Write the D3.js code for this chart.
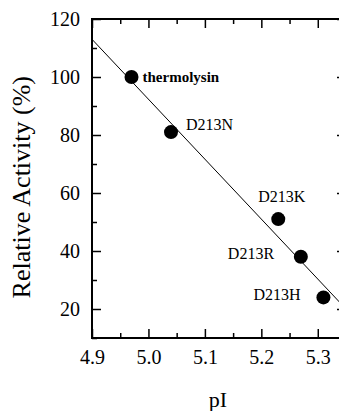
<!DOCTYPE html>
<html>
<head>
<meta charset="utf-8">
<script src="https://cdnjs.cloudflare.com/ajax/libs/d3/7.8.5/d3.min.js"></script>
<style>
body{margin:0;background:#fff;overflow:hidden;}
</style>
</head>
<body>
<div id="app"></div>
<script>
var names = ["thermolysin","D213N","D213K","D213R","D213H"];
var pI = [4.97, 5.04, 5.23, 5.27, 5.31];
var activity = [100, 81, 51, 38, 24];
var fitX = [4.9, 5.35];
var fitY = [113, 20];
var xTicks = [4.9, 5.0, 5.1, 5.2, 5.3];
var yTicks = [20, 40, 60, 80, 100, 120];

var serif = "Liberation Serif";
var svgWidth = 339, svgHeight = 411;
var margin = {top: 19, right: -7, bottom: 73, left: 92};
var planeWidth = svgWidth - margin.left - margin.right;
var planeHeight = svgHeight - margin.top - margin.bottom;

var svg = d3.select("#app").append("svg")
    .attr("width", svgWidth)
    .attr("height", svgHeight)
    .attr("font-family", serif);

var g = svg.append("g")
    .attr("transform", "translate(" + margin.left + "," + margin.top + ")");

var x = d3.scaleLinear().domain([4.9, 5.35]).range([0, planeWidth]);
var y = d3.scaleLinear().domain([10, 120]).range([planeHeight, 0]);

// minor ticks
var xMinor = [4.95, 5.05, 5.15, 5.25];
var yMinor = [10, 30, 50, 70, 90, 110];

function style(sel){
    sel.attr("font-family", null).attr("font-size", null);
    sel.select(".domain").remove();
    sel.selectAll(".tick line").attr("stroke", "#000").attr("stroke-width", 1.5);
    sel.selectAll(".tick text").attr("fill", "#000")
        .style("font-family", serif).style("font-size", "20px");
}

// bottom
g.append("g").attr("transform", "translate(0," + planeHeight + ")")
    .call(d3.axisBottom(x).tickValues(xTicks).tickFormat(d3.format(".1f")).tickSizeInner(-9).tickSizeOuter(0).tickPadding(12))
    .call(style);
g.append("g").attr("transform", "translate(0," + planeHeight + ")")
    .call(d3.axisBottom(x).tickValues(xMinor).tickFormat("").tickSizeInner(-5).tickSizeOuter(0))
    .call(style);
// top
g.append("g")
    .call(d3.axisTop(x).tickValues(xTicks).tickFormat("").tickSizeInner(-9).tickSizeOuter(0))
    .call(style);
g.append("g")
    .call(d3.axisTop(x).tickValues(xMinor).tickFormat("").tickSizeInner(-5).tickSizeOuter(0))
    .call(style);
// left
g.append("g")
    .call(d3.axisLeft(y).tickValues(yTicks).tickSizeInner(-9).tickSizeOuter(0).tickPadding(12))
    .call(style);
g.append("g")
    .call(d3.axisLeft(y).tickValues(yMinor).tickFormat("").tickSizeInner(-5).tickSizeOuter(0))
    .call(style);
// right
g.append("g").attr("transform", "translate(" + planeWidth + ",0)")
    .call(d3.axisRight(y).tickValues(yTicks).tickFormat("").tickSizeInner(-9).tickSizeOuter(0))
    .call(style);

// frame
g.append("rect")
    .attr("x", 0).attr("y", 0)
    .attr("width", planeWidth).attr("height", planeHeight)
    .attr("fill", "none").attr("stroke", "#000").attr("stroke-width", 2);

// fit line
var line = d3.line().x(function(d){ return x(d[0]); }).y(function(d){ return y(d[1]); });
g.append("path")
    .datum(fitX.map(function(v, i){ return [v, fitY[i]]; }))
    .attr("d", line)
    .attr("fill", "none").attr("stroke", "#000").attr("stroke-width", 1);

// points
g.selectAll("circle").data(pI).enter().append("circle")
    .attr("cx", function(d){ return x(d); })
    .attr("cy", function(d, i){ return y(activity[i]); })
    .attr("r", 7)
    .attr("fill", "#000");

// labels
var labelOffset = [[11, 0], [15, -8], [-20, -23], [-73, -3], [-70, -3]];
g.selectAll(".lbl").data(names).enter().append("text")
    .attr("class", "lbl")
    .attr("x", function(d, i){ return x(pI[i]) + labelOffset[i][0]; })
    .attr("y", function(d, i){ return y(activity[i]) + labelOffset[i][1]; })
    .attr("dy", "0.35em")
    .attr("font-size", function(d, i){ return i === 0 ? 15 : 16; })
    .attr("font-weight", function(d, i){ return i === 0 ? "bold" : "normal"; })
    .text(function(d){ return d; });

// axis titles
svg.append("text")
    .attr("transform", "translate(30," + (margin.top + y(62)) + ") rotate(-90)")
    .attr("text-anchor", "middle")
    .attr("font-size", 26)
    .text("Relative Activity (%)");
svg.append("text")
    .attr("x", margin.left + x(5.123))
    .attr("y", 407)
    .attr("text-anchor", "middle")
    .attr("font-size", 22)
    .text("pI");
</script>
</body>
</html>
